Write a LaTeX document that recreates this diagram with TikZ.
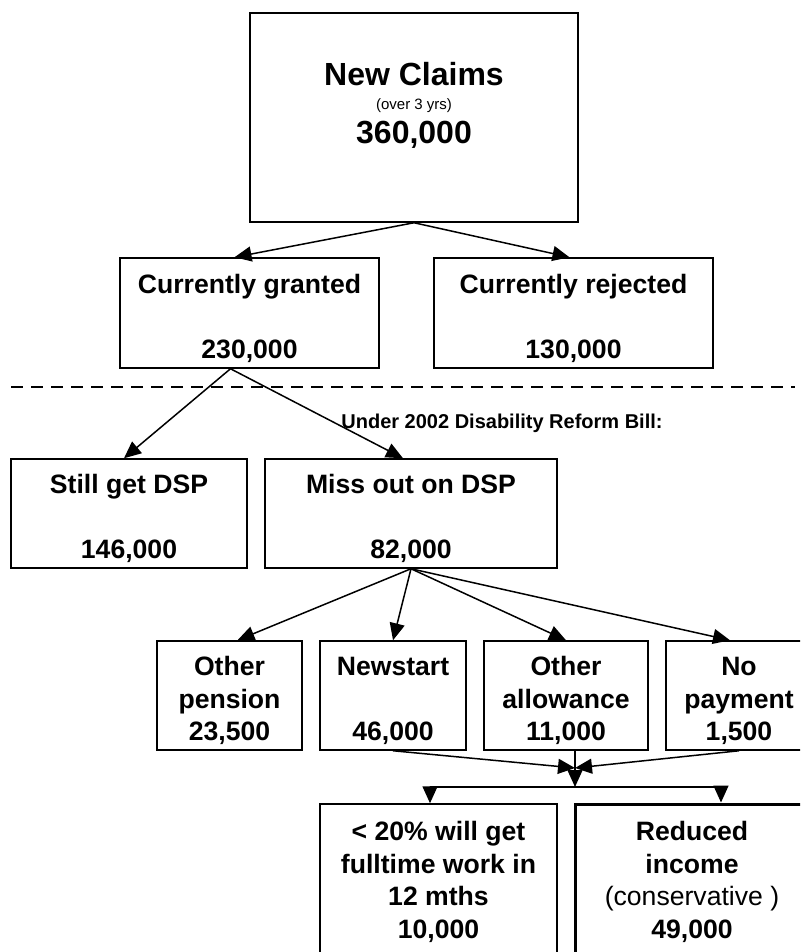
\documentclass[tikz,border=0pt]{standalone}
\usepackage{fontspec}
\setmainfont{Liberation Sans}
\usetikzlibrary{arrows.meta}
\newcommand\topstrut{\rule{0pt}{29.5pt}}
\begin{document}
\begin{tikzpicture}[x=1pt, y=-1pt, line width=1.5pt]
      \tikzset{
	  box/.style={rectangle, draw=black, line width=1.5pt, inner sep=0pt, align=center, font=\fontsize{26.6}{32.5}\selectfont\bfseries},
	  thickbox/.style={box, line width=3pt},
	  flow/.style={-{Triangle[length=17pt, width=15pt]}, line width=1.5pt},
	  cut/.style={dash pattern=on 12pt off 8pt, line width=2pt},
	  mylabel/.style={inner sep=0pt, font=\fontsize{20}{24}\selectfont\bfseries}
      }

      \useasboundingbox (0,0) rectangle (800,952);
      \clip (0,0) rectangle (800,952);

      \node [box, minimum width=328pt, minimum height=209pt] (claims) at (414,117.5)
	    {{\fontsize{32}{29}\selectfont New Claims}\\[-8.5pt]
	     {\fontsize{15}{18}\selectfont\mdseries (over 3 yrs)}\\[1.5pt]
	     {\fontsize{32}{29}\selectfont 360,000\rule[-29pt]{0pt}{29pt}}};

      \node [box, minimum width=259pt, minimum height=110pt] (granted) at (249.5,313) {\topstrut Currently granted\\[32.5pt]230,000};
      \node [box, minimum width=279pt, minimum height=110pt] (rejected) at (573.5,313) {\topstrut Currently rejected\\[32.5pt]130,000};

      \coordinate (cutL) at (11,387);
      \coordinate (cutR) at (795,387);
      \draw [cut] (cutL) -- (cutR);

      \node [mylabel] (bill) at (502,423) {Under 2002 Disability Reform Bill:};

      \node [box, minimum width=236pt, minimum height=109pt] (still) at (129,513.5) {\topstrut Still get DSP\\[32.5pt]146,000};
      \node [box, minimum width=292pt, minimum height=109pt] (miss) at (411,513.5) {\topstrut Miss out on DSP\\[32.5pt]82,000};

      \node [box, minimum width=145pt, minimum height=109pt] (pension) at (229.5,695.5) {\topstrut Other\\pension\\23,500};
      \node [box, minimum width=146pt, minimum height=109pt] (newstart) at (393,695.5) {\topstrut Newstart\\[32.5pt]46,000};
      \node [box, minimum width=164pt, minimum height=109pt] (otherallow) at (566,695.5) {\topstrut Other\\allowance\\11,000};
      \node [box, minimum width=146pt, minimum height=109pt] (nopay) at (739,695.5) {\topstrut No\\payment\\1,500};

      \node [box, minimum width=237pt, minimum height=156pt] (work) at (438.5,882) {\textless{} 20\% will get\\fulltime work in\\12 mths\\10,000};
      \node [thickbox, minimum width=234pt, minimum height=156pt] (reduced) at (692,882) {Reduced\\income\\{\mdseries (conservative )}\\49,000};

      \coordinate (merge) at (575,768);
      \coordinate (split) at (575,787);

      \draw [flow] (claims.south) -- ([xshift=-15pt]granted.north);
      \draw [flow] (claims.south) -- ([xshift=-4pt]rejected.north);
      \draw [flow] ([xshift=-19pt]granted.south) -- ([xshift=-5pt]still.north);
      \draw [flow] ([xshift=-19pt]granted.south) -- ([xshift=-8pt]miss.north);
      \draw [flow] (miss.south) -- ([xshift=8pt]pension.north);
      \draw [flow] (miss.south) -- (newstart.north);
      \draw [flow] (miss.south) -- (otherallow.north);
      \draw [flow] (miss.south) -- ([xshift=-9pt]nopay.north);
      \draw [flow] (newstart.south) -- (merge);
      \draw [flow] (nopay.south) -- (merge);
      \draw [flow] ([xshift=9pt]otherallow.south) -- (split);
      \draw [flow] (split) -| ([xshift=-8.5pt]work.north);
      \draw [flow] (split) -| ([xshift=29pt]reduced.north);
\end{tikzpicture}
\end{document}
